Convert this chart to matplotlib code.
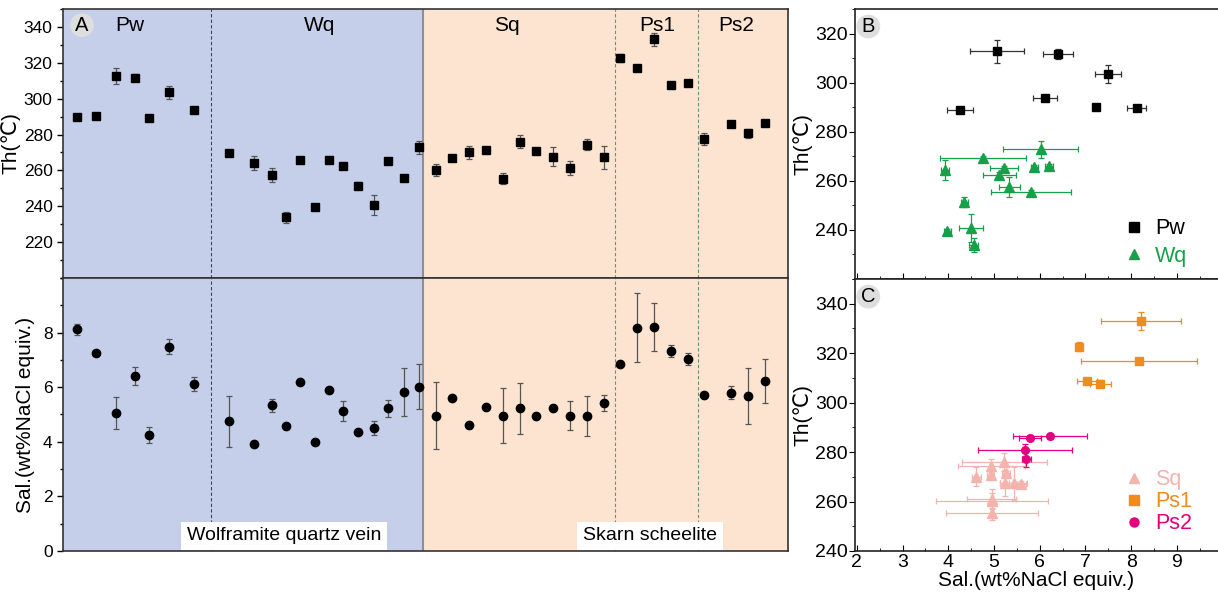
import matplotlib
matplotlib.use('Agg')
import matplotlib.pyplot as plt
from matplotlib.lines import Line2D
from matplotlib.ticker import MultipleLocator

plt.rcParams['font.family'] = ['Liberation Sans', 'DejaVu Sans']

# sample positions along panel A (arbitrary order units)
pwPos = [1.4, 3.3, 5.3, 7.2, 8.6, 10.6, 13.1]
wqPos = [16.6, 19.1, 20.9, 22.3, 23.7, 25.2, 26.6, 28.0, 29.5, 31.1, 32.5, 34.1, 35.6]
sqPos = [37.3, 38.9, 40.6, 42.3, 44.0, 45.7, 47.3, 49.0, 50.7, 52.4, 54.1]
ps1Pos = [55.7, 57.4, 59.1, 60.8, 62.5]
ps2Pos = [64.1, 66.8, 68.5, 70.2]

# homogenization temperature (C) and salinity (wt% NaCl equiv.)
pwTh = [289.6, 290.1, 312.7, 311.8, 289.0, 303.5, 293.6]
pwThErr = [0.8, 0.8, 4.6, 2.0, 0.8, 3.6, 0.8]
pwSal = [8.12, 7.24, 5.06, 6.40, 4.26, 7.49, 6.12]
pwSalErr = [0.2, 0.05, 0.59, 0.33, 0.29, 0.29, 0.26]

wqTh = [269.5, 264.3, 257.5, 233.9, 266.0, 239.5, 265.6, 262.5, 251.5, 240.6, 265.2, 255.6, 272.8]
wqThErr = [0.8, 4.0, 4.0, 3.0, 0.8, 0.8, 0.8, 1.0, 2.0, 5.7, 0.8, 0.8, 3.5]
wqSal = [4.75, 3.93, 5.33, 4.56, 6.20, 3.98, 5.88, 5.12, 4.35, 4.50, 5.22, 5.81, 6.02]
wqSalErr = [0.94, 0.08, 0.23, 0.1, 0.08, 0.08, 0.08, 0.36, 0.08, 0.26, 0.31, 0.88, 0.82]

sqTh = [260.2, 267.1, 270.1, 271.4, 255.4, 276.0, 270.8, 267.5, 261.2, 274.3, 267.3]
sqThErr = [3.4, 1.0, 3.7, 1.0, 3.0, 3.5, 1.0, 5.3, 4.0, 3.0, 6.5]
sqSal = [4.96, 5.60, 4.61, 5.26, 4.96, 5.22, 4.93, 5.23, 4.95, 4.94, 5.43]
sqSalErr = [1.23, 0.1, 0.1, 0.08, 1.0, 0.93, 0.08, 0.1, 0.53, 0.73, 0.3]

ps1Th = [322.7, 317.0, 333.0, 307.7, 308.8]
ps1ThErr = [2.0, 0.8, 3.7, 1.5, 1.0]
ps1Sal = [6.86, 8.18, 8.22, 7.32, 7.04]
ps1SalErr = [0.05, 1.27, 0.88, 0.23, 0.22]

ps2Th = [277.3, 285.8, 280.8, 286.4]
ps2ThErr = [3.3, 1.0, 2.5, 1.0]
ps2Sal = [5.71, 5.79, 5.68, 6.23]
ps2SalErr = [0.1, 0.24, 1.02, 0.81]

stageNames = ['Pw', 'Wq', 'Sq', 'Ps1', 'Ps2']
stageLabelPos = [6.7, 25.7, 44.4, 59.4, 67.3]
stageBounds = [14.8, 55.2, 63.5]
veinEnd = 36.0

blueBg = '#c6cfe9'
orangeBg = '#fde4d0'
errCol = '#555555'
green = '#17a04a'
orange = '#f28a1c'
magenta = '#e5007e'
pink = '#f4b4ae'

fig = plt.figure(figsize=(12.18, 5.92), dpi=100)
axTop = fig.add_axes([0.0517, 0.5304, 0.5953, 0.4544])
axBot = fig.add_axes([0.0517, 0.0693, 0.5953, 0.4611], sharex=axTop)
axB = fig.add_axes([0.702, 0.5287, 0.298, 0.4561])
axC = fig.add_axes([0.702, 0.0693, 0.298, 0.4594])

allPos = [pwPos, wqPos, sqPos, ps1Pos, ps2Pos]
allTh = [pwTh, wqTh, sqTh, ps1Th, ps2Th]
allThErr = [pwThErr, wqThErr, sqThErr, ps1ThErr, ps2ThErr]
allSal = [pwSal, wqSal, sqSal, ps1Sal, ps2Sal]
allSalErr = [pwSalErr, wqSalErr, sqSalErr, ps1SalErr, ps2SalErr]

for ax in [axTop, axBot]:
    ax.axvspan(0, veinEnd, color=blueBg, zorder=0)
    ax.axvspan(veinEnd, 72.5, color=orangeBg, zorder=0)
    ax.axvline(veinEnd, color='#8a8f99', lw=1.5, zorder=1)
    ax.axvline(stageBounds[0], color='#3c4660', lw=0.8, ls=(0, (3, 2)), zorder=1)
    for b in stageBounds[1:]:
        ax.axvline(b, color='#6f8f6f', lw=0.8, ls=(0, (3, 2)), zorder=1)
    ax.set_xlim(0, 72.5)
    ax.tick_params(axis='x', which='both', bottom=False, top=False, labelbottom=False)
    ax.tick_params(axis='y', which='both', direction='out', labelsize=12.5, width=1)
    ax.tick_params(axis='y', which='major', length=4)
    ax.tick_params(axis='y', which='minor', length=2.5)
    for s in ax.spines.values():
        s.set_linewidth(1.2)
        s.set_color('#333333')

for pos, th, thErr, sal, salErr in zip(allPos, allTh, allThErr, allSal, allSalErr):
    axTop.errorbar(pos, th, yerr=thErr, fmt='s', color='black', ms=5.5, ecolor=errCol,
                   elinewidth=0.9, capsize=2.5, capthick=0.9, zorder=3)
    axBot.errorbar(pos, sal, yerr=salErr, fmt='o', color='black', ms=6, ecolor=errCol,
                   elinewidth=0.9, capsize=2.5, capthick=0.9, zorder=3)

axTop.set_ylim(200, 350)
axTop.yaxis.set_minor_locator(MultipleLocator(10))
axTop.set_yticks([220, 240, 260, 280, 300, 320, 340])
axTop.set_ylabel('Th(℃)', fontsize=15, labelpad=2)

axBot.set_ylim(0, 10)
axBot.set_yticks([0, 2, 4, 6, 8])
axBot.yaxis.set_minor_locator(MultipleLocator(1))
axBot.set_ylabel('Sal.(wt%NaCl equiv.)', fontsize=15, labelpad=6)

for name, xp in zip(stageNames, stageLabelPos):
    axTop.text(xp, 0.94, name, transform=axTop.get_xaxis_transform(), fontsize=15,
               ha='center', va='center')

axTop.text(1.9, 0.94, 'A', transform=axTop.get_xaxis_transform(), fontsize=14.5,
           ha='center', va='center',
           bbox=dict(boxstyle='circle,pad=0.12', fc='#dedede', ec='none'))

axBot.text(22.1, 0.055, 'Wolframite quartz vein', transform=axBot.get_xaxis_transform(),
           fontsize=14, ha='center', va='center',
           bbox=dict(boxstyle='square,pad=0.3', fc='white', ec='none'))
axBot.text(58.7, 0.055, 'Skarn scheelite', transform=axBot.get_xaxis_transform(),
           fontsize=14, ha='center', va='center',
           bbox=dict(boxstyle='square,pad=0.3', fc='white', ec='none'))

# panel B
axB.errorbar(pwSal, pwTh, xerr=pwSalErr, yerr=pwThErr, fmt='s', color='black', ms=5.5,
             ecolor='#333333', elinewidth=0.9, capsize=2.5, capthick=0.9, zorder=3)
axB.errorbar(wqSal, wqTh, xerr=wqSalErr, yerr=wqThErr, fmt='^', color=green, ms=6.5,
             ecolor=green, elinewidth=0.9, capsize=2.5, capthick=0.9, zorder=3)
axB.set_ylim(220, 330)
axB.set_yticks([240, 260, 280, 300, 320])
axB.yaxis.set_minor_locator(MultipleLocator(10))
axB.set_ylabel('Th(℃)', fontsize=15, labelpad=2)
handlesB = [Line2D([], [], ls='', marker='s', color='black', ms=6.5),
            Line2D([], [], ls='', marker='^', color=green, ms=7.5)]
axB.legend(handlesB, ['Pw', 'Wq'], loc='center left', frameon=False, fontsize=15.5,
           labelcolor=['black', green], handletextpad=0.5, handlelength=1,
           borderpad=0, labelspacing=0.3, bbox_to_anchor=(0.708, 0.135))
axB.text(2.25, 0.935, 'B', transform=axB.get_xaxis_transform(), fontsize=14.5,
         ha='center', va='center',
         bbox=dict(boxstyle='circle,pad=0.12', fc='#dedede', ec='none'))

# panel C
axC.errorbar(sqSal, sqTh, xerr=sqSalErr, yerr=sqThErr, fmt='^', color=pink, ms=6.5,
             ecolor=pink, elinewidth=0.9, capsize=2.5, capthick=0.9, zorder=3)
axC.errorbar(ps1Sal, ps1Th, xerr=ps1SalErr, yerr=ps1ThErr, fmt='s', color=orange, ms=5.5,
             ecolor=orange, elinewidth=0.9, capsize=2.5, capthick=0.9, zorder=3)
axC.errorbar(ps2Sal, ps2Th, xerr=ps2SalErr, yerr=ps2ThErr, fmt='o', color=magenta, ms=5.5,
             ecolor=magenta, elinewidth=0.9, capsize=2.5, capthick=0.9, zorder=3)
axC.set_ylim(240, 350)
axC.set_yticks([240, 260, 280, 300, 320, 340])
axC.yaxis.set_minor_locator(MultipleLocator(10))
axC.set_ylabel('Th(℃)', fontsize=15, labelpad=2)
axC.set_xlabel('Sal.(wt%NaCl equiv.)', fontsize=15, labelpad=0)
handlesC = [Line2D([], [], ls='', marker='^', color=pink, ms=7.5),
            Line2D([], [], ls='', marker='s', color=orange, ms=6.5),
            Line2D([], [], ls='', marker='o', color=magenta, ms=6.5)]
axC.legend(handlesC, ['Sq', 'Ps1', 'Ps2'], loc='center left', frameon=False, fontsize=15.5,
           labelcolor=[pink, orange, magenta], handletextpad=0.5, handlelength=1,
           borderpad=0, labelspacing=0.05, bbox_to_anchor=(0.708, 0.181))
axC.text(2.25, 0.935, 'C', transform=axC.get_xaxis_transform(), fontsize=14.5,
         ha='center', va='center',
         bbox=dict(boxstyle='circle,pad=0.12', fc='#dedede', ec='none'))

for ax in [axB, axC]:
    ax.set_xlim(1.96, 9.9)
    ax.set_xticks([2, 3, 4, 5, 6, 7, 8, 9])
    ax.xaxis.set_minor_locator(MultipleLocator(0.5))
    ax.tick_params(axis='x', which='both', direction='in', labelsize=14, pad=2)
    ax.tick_params(axis='y', which='both', direction='out', labelsize=14, pad=1)
    ax.tick_params(which='major', length=4)
    ax.tick_params(which='minor', length=2.5)
    ax.spines['right'].set_visible(False)
    for s in ax.spines.values():
        s.set_linewidth(1.2)
        s.set_color('#222222')
axB.tick_params(axis='x', labelbottom=False)

fig.savefig('out.png', dpi=100)
